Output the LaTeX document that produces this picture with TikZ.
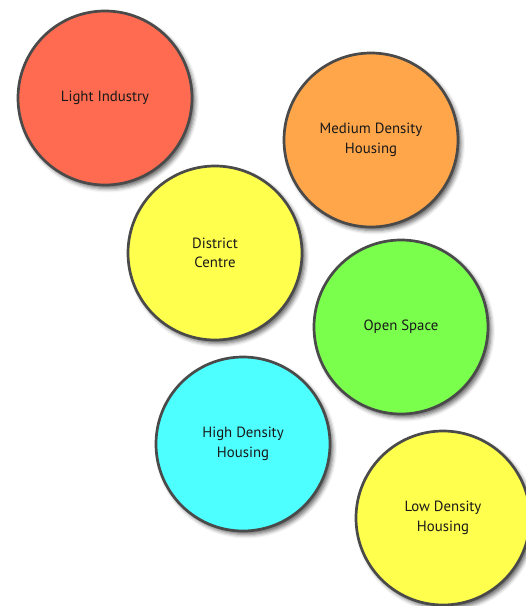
\documentclass[tikz,border=0pt]{standalone}
\usepackage{fontspec}
\setmainfont{PT Sans}
\usetikzlibrary{shadows.blur}
\definecolor{industry}{HTML}{FF6B50}
\definecolor{medium}{HTML}{FFA54A}
\definecolor{centre}{HTML}{FFFF4D}
\definecolor{openspace}{HTML}{7AFF4D}
\definecolor{high}{HTML}{4DFFFF}
\definecolor{rim}{HTML}{4A4A4A}
\begin{document}
\begin{tikzpicture}[x=1pt,y=-1pt,every node/.style={font=\fontsize{14.8}{19.5}\selectfont},
  zone/.style={circle,draw=rim,line width=2.7pt,minimum size=174pt,inner sep=0pt,align=center,text=black!90,
    blur shadow={shadow xshift=3pt,shadow yshift=-3.5pt,shadow blur radius=4pt,shadow opacity=60}}]
  \useasboundingbox (0,0) rectangle (526,606);
  \foreach \name/\x/\y/\col/\txt in {light/105/98/industry/{Light Industry},
      mdh/371/140/medium/{Medium Density\\Housing},
      dc/215/253/centre/{District\\Centre},
      open/401/327/openspace/{Open Space},
      hdh/243/444/high/{High Density\\Housing},
      ldh/443/518/centre/{Low Density\\Housing}} {
    \node[zone,fill=\col] (\name) at (\x,\y) {\txt};
  }
\end{tikzpicture}
\end{document}
